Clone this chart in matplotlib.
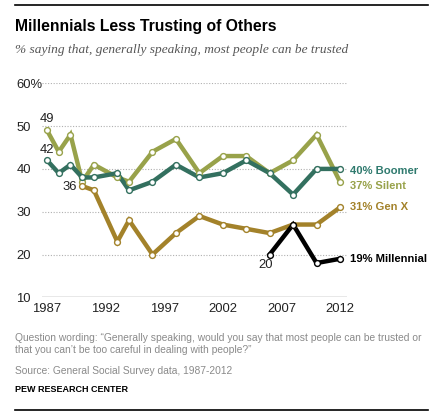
import matplotlib
matplotlib.use('Agg')
import matplotlib.pyplot as plt
from matplotlib import font_manager

# Data
years = [1987, 1988, 1989, 1990, 1991, 1993, 1994, 1996, 1998, 2000,
         2002, 2004, 2006, 2008, 2010, 2012]
silent = [49, 44, 48, 37, 41, 38, 37, 44, 47, 39, 43, 43, 39, 42, 48, 37]
boomer = [42, 39, 41, 38, 38, 39, 35, 37, 41, 38, 39, 42, 39, 34, 40, 40]
genx_years = [1990, 1991, 1993, 1994, 1996, 1998, 2000, 2002, 2004, 2006,
              2008, 2010, 2012]
genx = [36, 35, 23, 28, 20, 25, 29, 27, 26, 25, 27, 27, 31]
mill_years = [2006, 2008, 2010, 2012]
millennial = [20, 27, 18, 19]

yticks = [10, 20, 30, 40, 50, 60]
ytick_labels = ['10', '20', '30', '40', '50', '60%']
xticks = [1987, 1992, 1997, 2002, 2007, 2012]

c_silent = '#98a24a'
c_boomer = '#33705f'
c_genx = '#a3822a'
c_mill = '#000000'
c_text_boomer = '#2f7a6e'

# narrow font if there is one
names = set(f.name for f in font_manager.fontManager.ttflist)
narrow = 'Liberation Sans Narrow' in names
base = 'Liberation Sans Narrow' if narrow else 'Liberation Sans'
plt.rcParams['font.family'] = [base, 'DejaVu Sans']
k = 1.0 if narrow else 0.85  # shrink when falling back to the wide face

W, H = 433, 419
fig = plt.figure(figsize=(W / 100, H / 100), dpi=100)
fig.patch.set_facecolor('white')

# axes placement in pixels
left, right, top, bottom = 42, 347, 83.3, 297.3
ax = fig.add_axes([left / W, 1 - bottom / H, (right - left) / W, (bottom - top) / H])
ax.set_xlim(1986.57, 2012.6)
ax.set_ylim(10, 60)

for s in ax.spines.values():
    s.set_visible(False)
ax.axhline(10, color='#8c8c8c', lw=1.0, zorder=1)
for v in [20, 30, 40, 50, 60]:
    ax.axhline(v, color='#b0b0b0', lw=0.8, ls=(0, (1, 1.5)), zorder=1)

def series(x, y, c):
    ax.plot(x, y, color=c, lw=3.2, zorder=3, solid_joinstyle='miter')
    ax.plot(x, y, 'o', ms=4.2, mfc='white', mec=c, mew=1.0, zorder=4)

series(years, silent, c_silent)
series(years, boomer, c_boomer)
series(genx_years, genx, c_genx)
series(mill_years, millennial, c_mill)

fs = 11.0 * k
ax.set_yticks(yticks)
ax.set_yticklabels(ytick_labels)
ax.set_xticks(xticks)
ax.set_xticklabels([str(x) for x in xticks])
ax.tick_params(axis='both', length=0, labelsize=fs, labelcolor='#222222')
ax.tick_params(axis='y', pad=18.5)
for lab in ax.get_yticklabels():
    lab.set_horizontalalignment('left')
ax.tick_params(axis='x', pad=4)

# point labels
ax.annotate('49', (years[0], silent[0]), xytext=(0, 4), textcoords='offset points',
            ha='center', va='bottom', fontsize=fs, color='#222222')
ax.annotate('42', (years[0], boomer[0]), xytext=(0, 3), textcoords='offset points',
            ha='center', va='bottom', fontsize=fs, color='#222222')
ax.annotate('36', (genx_years[0], genx[0]), xytext=(-4, -1), textcoords='offset points',
            ha='right', va='center', fontsize=fs, color='#222222')
ax.annotate('20', (mill_years[0], millennial[0]), xytext=(-3, -3), textcoords='offset points',
            ha='center', va='top', fontsize=fs, color='#222222')

# end labels
end = [('40% Boomer', 39.6, c_text_boomer), ('37% Silent', 36.1, c_silent),
       ('31% Gen X', 31.1, c_genx), ('19% Millennial', 19.0, c_mill)]
for txt, yv, c in end:
    ax.annotate(txt, (2012, yv), xytext=(7, 0), textcoords='offset points',
                ha='left', va='center', fontsize=9.5 * k, fontweight='bold', color=c,
                annotation_clip=False)

# header / footer
fig.add_artist(plt.Line2D([15 / W, 428 / W], [1 - 5 / H, 1 - 5 / H], color='black', lw=1.2))
fig.add_artist(plt.Line2D([15 / W, 428 / W], [1 - 410 / H, 1 - 410 / H], color='black', lw=1.2))
fig.text(15 / W, 1 - 26 / H, 'Millennials Less Trusting of Others', fontsize=13.4 * k,
         fontweight='bold', va='center', ha='left', color='black')
fig.text(15 / W, 1 - 50 / H, '% saying that, generally speaking, most people can be trusted',
         fontsize=9.6, style='italic', family='Liberation Serif', va='center', ha='left',
         color='#555555')
fig.text(15 / W, 1 - 344 / H,
         'Question wording: \u201cGenerally speaking, would you say that most people can be trusted or\n'
         'that you can\u2019t be too careful in dealing with people?\u201d',
         fontsize=8.65 * k, color='#8a8a8a', va='center', ha='left', linespacing=1.3)
fig.text(15 / W, 1 - 371 / H, 'Source: General Social Survey data, 1987-2012', fontsize=8.65 * k,
         color='#8a8a8a', va='center', ha='left')
fig.text(15 / W, 1 - 389 / H, 'PEW RESEARCH CENTER', fontsize=7.6 * k, fontweight='bold',
         color='black', va='center', ha='left')

fig.savefig('out.png', dpi=100)
